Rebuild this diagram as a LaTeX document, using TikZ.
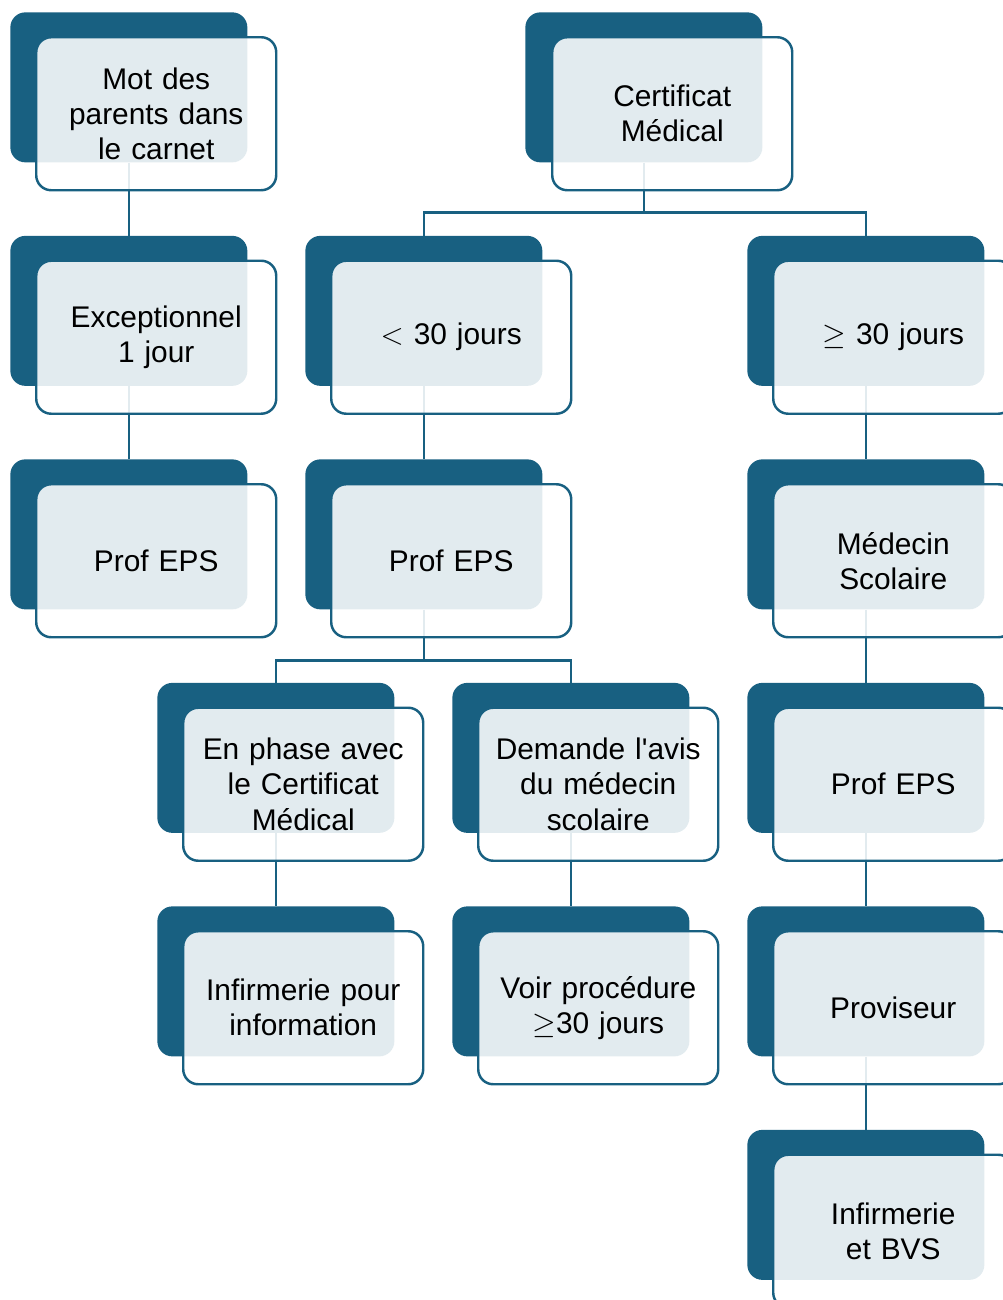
\documentclass[tikz,border=0pt]{standalone}
\usepackage{fontspec}
\setmainfont{Liberation Sans}[Ligatures=TeXOff]
\usetikzlibrary{positioning}
\definecolor{petrol}{HTML}{186081}
\pgfdeclarelayer{background}
\pgfsetlayers{background,main}
\tikzset{
  back/.style={fill=petrol, rounded corners=0.3cm, minimum width=4.74cm, minimum height=3cm, inner sep=0pt, anchor=north west},
  front/.style={draw=petrol, line width=1.4pt, fill=white, fill opacity=0.88, text opacity=1, rounded corners=0.3cm, minimum width=4.8cm, minimum height=3.06cm, text width=4.5cm, align=center, anchor=north west, font=\fontsize{17}{20}\selectfont},
  link/.style={draw=petrol, line width=1.4pt}
}
\begin{document}
\begin{tikzpicture}
        \clip (0,0) rectangle (20.06,-26);
        \def \h {4.47}
        % back boxes
        \node[back] (bmot) at (0.2, -0.24) {};
        \node[back] (bcert) at (10.5, -0.24) {};
        \node[back] (bexc) at (0.2, -0.24-1*\h) {};
        \node[back] (blt) at (6.1, -0.24-1*\h) {};
        \node[back] (bge) at (14.94, -0.24-1*\h) {};
        \node[back] (beps1) at (0.2, -0.24-2*\h) {};
        \node[back] (beps2) at (6.1, -0.24-2*\h) {};
        \node[back] (bmed) at (14.94, -0.24-2*\h) {};
        \node[back] (bphase) at (3.14, -0.24-3*\h) {};
        \node[back] (bavis) at (9.04, -0.24-3*\h) {};
        \node[back] (beps3) at (14.94, -0.24-3*\h) {};
        \node[back] (binf) at (3.14, -0.24-4*\h) {};
        \node[back] (bvoir) at (9.04, -0.24-4*\h) {};
        \node[back] (bprov) at (14.94, -0.24-4*\h) {};
        \node[back] (bbvs) at (14.94, -0.24-5*\h) {};
        % front boxes
        \node[front] (mot) at ([shift={(0.5,-0.48)}]bmot.north west) {Mot des\\parents dans\\le carnet};
        \node[front] (cert) at ([shift={(0.52,-0.48)}]bcert.north west) {Certificat\\Médical};
        \node[front] (exc) at ([shift={(0.5,-0.48)}]bexc.north west) {Exceptionnel\\1 jour};
        \node[front] (lt) at ([shift={(0.5,-0.48)}]blt.north west) {$<$ 30 jours};
        \node[front] (ge) at ([shift={(0.5,-0.48)}]bge.north west) {$\geq$ 30 jours};
        \node[front] (eps1) at ([shift={(0.5,-0.48)}]beps1.north west) {Prof EPS};
        \node[front] (eps2) at ([shift={(0.5,-0.48)}]beps2.north west) {Prof EPS};
        \node[front] (med) at ([shift={(0.5,-0.48)}]bmed.north west) {Médecin\\Scolaire};
        \node[front] (phase) at ([shift={(0.5,-0.48)}]bphase.north west) {En phase avec\\le Certificat\\Médical};
        \node[front] (avis) at ([shift={(0.5,-0.48)}]bavis.north west) {Demande l'avis\\du médecin\\scolaire};
        \node[front] (eps3) at ([shift={(0.5,-0.48)}]beps3.north west) {Prof EPS};
        \node[front] (inf) at ([shift={(0.5,-0.48)}]binf.north west) {Infirmerie pour\\information};
        \node[front] (voir) at ([shift={(0.5,-0.48)}]bvoir.north west) {Voir procédure\\$\geq$30 jours};
        \node[front] (prov) at ([shift={(0.5,-0.48)}]bprov.north west) {Proviseur};
        \node[front] (bvs) at ([shift={(0.5,-0.48)}]bbvs.north west) {Infirmerie\\et BVS};
        % connectors
        \begin{pgfonlayer}{background}
        \coordinate (c1) at ([yshift=-1cm]bcert.south);
        \coordinate (c2) at ([yshift=-1.02cm]beps2.south);
        \draw[link] (bmot) -- (bexc);
        \draw[link] (bexc) -- (beps1);
        \draw[link] (bcert.south) -- (c1);
        \draw[link] (c1) -| (blt.north);
        \draw[link] (c1) -| (bge.north);
        \draw[link] (blt) -- (beps2);
        \draw[link] (bge) -- (bmed);
        \draw[link] (beps2.south) -- (c2);
        \draw[link] (c2) -| (bphase.north);
        \draw[link] (c2) -| (bavis.north);
        \draw[link] (bmed) -- (beps3);
        \draw[link] (bphase) -- (binf);
        \draw[link] (bavis) -- (bvoir);
        \draw[link] (beps3) -- (bprov);
        \draw[link] (bprov) -- (bbvs);
        \end{pgfonlayer}
    \end{tikzpicture}
\end{document}
